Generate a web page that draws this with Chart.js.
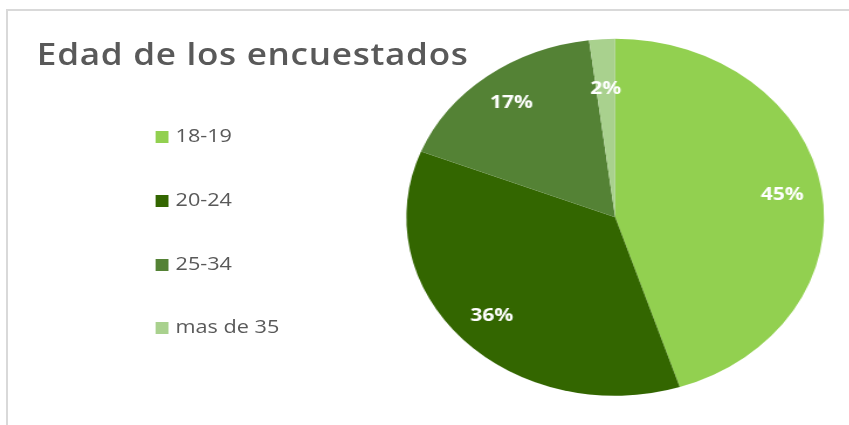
<!DOCTYPE html>
<html>
<head>
<meta charset="utf-8">
<script src="https://cdn.jsdelivr.net/npm/chart.js@4.4.1/dist/chart.umd.min.js"></script>
<style>
    body { margin: 0; background: #fff; overflow: hidden; }
    #frame {
        position: absolute; left: 6px; top: 9px; width: 900px; height: 500px;
        border-left: 2px solid #d9d9d9; border-top: 2px solid #d9d9d9;
    }
    /* the original picture is stretched sideways, so is this wrapper */
    #wrap {
        position: absolute; left: 0; top: 0; width: 726px; height: 425px;
        transform: scaleX(1.17); transform-origin: 0 0;
        font-family: "Open Sans", sans-serif; color: #595959;
    }
    #title {
        position: absolute; left: 31.5px; top: 39px;
        font-size: 30px; font-weight: 600; letter-spacing: 0.6px; line-height: 1; white-space: nowrap;
    }
    .item { position: absolute; left: 133px; height: 20px; font-size: 18.5px; line-height: 1; white-space: nowrap; }
    .item .box { position: absolute; left: 0; top: 5px; width: 10.5px; height: 12px; }
    .item .txt { position: absolute; left: 17px; top: 0; }
    #PieChart { position: absolute; left: 0; top: 0; }
</style>
</head>
<body>
<div id="frame"></div>
<div id="wrap">
    <div id="title">Edad de los encuestados</div>
    <div id="legend"></div>
    <canvas id="PieChart" width="726" height="425"></canvas>
</div>
<script>
var categories = ['18-19', '20-24', '25-34', 'mas de 35'];
var values = [45, 36, 17, 2];
var colors = ['#92D050', '#336600', '#548235', '#A9D18E'];

// legend, built from the same arrays
var legend = document.getElementById('legend');
categories.forEach(function (cat, i) {
    var item = document.createElement('div');
    item.className = 'item';
    item.style.top = (126 + i * 63.8) + 'px';
    item.innerHTML = '<span class="box" style="background:' + colors[i] + '"></span><span class="txt">' + cat + '</span>';
    legend.appendChild(item);
});

// percentage labels inside the slices
var percentLabels = {
    id: 'percentLabels',
    afterDatasetsDraw: function (chart) {
        var ctx = chart.ctx;
        var data = chart.data.datasets[0].data;
        var total = data.reduce(function (a, b) { return a + b; }, 0);
        ctx.save();
        ctx.fillStyle = '#ffffff';
        ctx.font = 'bold 18px "Open Sans"';
        ctx.textAlign = 'center';
        ctx.textBaseline = 'middle';
        chart.getDatasetMeta(0).data.forEach(function (arc, i) {
            var p = arc.getProps(['x', 'y', 'startAngle', 'endAngle', 'outerRadius'], true);
            var mid = (p.startAngle + p.endAngle) / 2;
            var share = data[i] / total;
            var r = p.outerRadius * (share < 0.05 ? 0.72 : 0.81);
            ctx.fillText(Math.round(share * 100) + '%', p.x + Math.cos(mid) * r, p.y + Math.sin(mid) * r);
        });
        ctx.restore();
    }
};

var pieCanvas = document.getElementById('PieChart').getContext('2d');
var pieChart = new Chart(pieCanvas, {
    type: 'pie',
    data: {
        labels: categories,
        datasets: [{
            data: values,
            backgroundColor: colors,
            borderWidth: 0
        }]
    },
    options: {
        responsive: false,
        animation: false,
        layout: { padding: { left: 347.3, right: 21.7, top: 38.8, bottom: 29.2 } },
        plugins: {
            legend: { display: false },
            tooltip: { enabled: false }
        }
    },
    plugins: [percentLabels]
});
</script>
</body>
</html>
